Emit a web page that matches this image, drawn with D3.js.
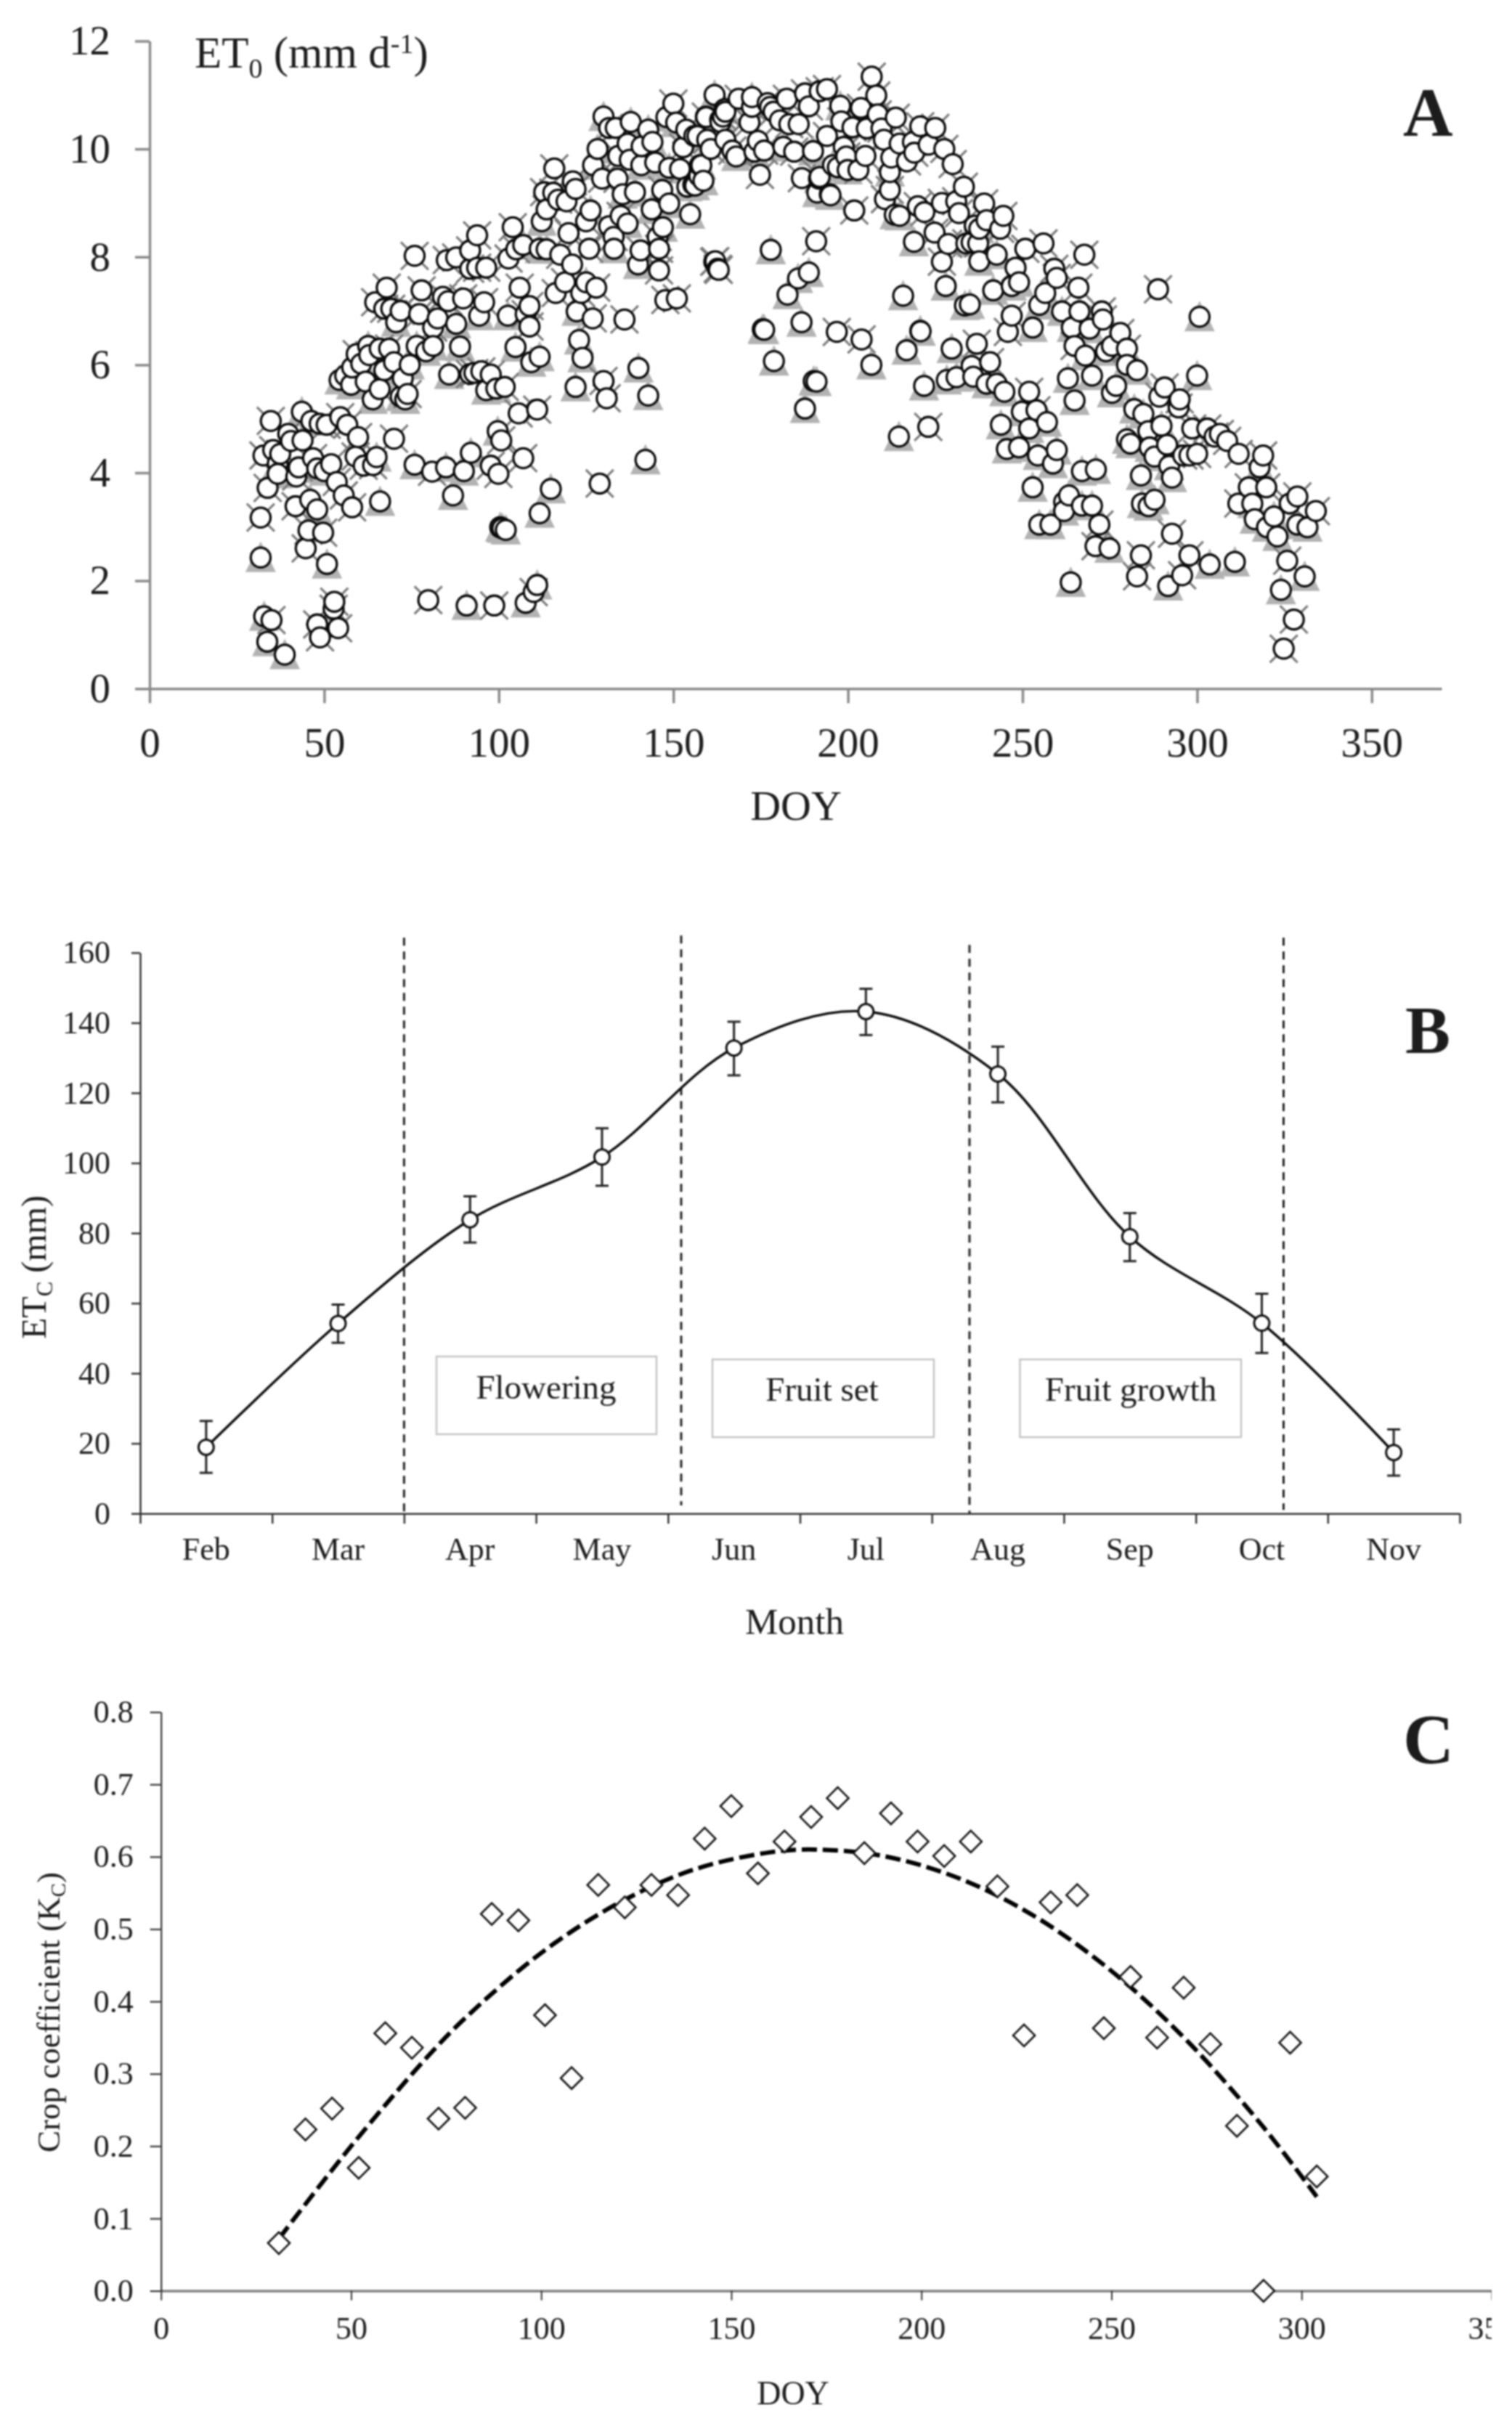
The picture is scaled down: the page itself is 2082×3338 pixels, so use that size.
<!DOCTYPE html>
<html><head><meta charset="utf-8">
<script src="https://cdnjs.cloudflare.com/ajax/libs/d3/7.8.5/d3.min.js"></script>
<style>html,body{margin:0;padding:0;background:#fff}svg{display:block;filter:blur(0.8px)}text{font-family:"Liberation Serif","Times New Roman",serif;fill:#1c1c1c}</style>
</head><body><svg id="c" width="2082" height="3338"></svg>
<script>
// Panel A: ET0 by DOY, [doy, mm/d]; points plotted with a grey cross
const et0Cross=[[31.8,3.17],[34.9,1.27],[33.8,3.72],[32.6,4.32],[34.7,4.96],[35.4,4.42],[37.4,4.35],[42.7,4.1],[41.8,3.38],[46.8,4.27],[45.5,2.93],[44.7,2.6],[49.7,2.89],[48,1.19],[48.8,.95],[52.9,1.61],[52.7,1.48],[54,1.12],[50.7,4.89],[48.7,4.91],[54.6,5.03],[56.6,4.89],[59.7,4.66],[52,4.16],[53.6,3.83],[55.6,3.58],[58,3.36],[59,4.3],[61.3,4.13],[64,4.14],[70,4.63],[80.9,4.02],[97.7,4.13],[99.9,3.98],[100.7,4.6],[79.8,1.64],[98.7,1.54],[110,1.79],[107,4.27],[105.7,5.1],[111,5.17],[128.9,3.8],[136,6.84],[130,5.7],[130.9,5.38],[126.9,6.86],[108.8,6.71],[107.7,6.94],[108.8,7.09],[106,7.43],[101.7,5.59],[97.7,5.82],[95,5.88],[93,5.85],[91.8,5.83],[89.8,7.23],[95.8,7.16],[96.4,7.8],[93.8,7.8],[91.8,7.78],[93.8,8.4],[91.8,8.12],[87.8,7.99],[85.1,7.94],[75.9,8.02],[77.9,7.38],[67.9,7.43],[64.6,7.16],[67.2,7.04],[69.2,7.04],[71.9,7],[77.2,6.94],[82.5,6.86],[81.2,6.69],[84,7.26],[85.5,7.18],[68.6,6.3],[65.9,6.3],[62.9,6.18],[59.3,6.2],[65.9,5.55],[73.9,5.46],[39.7,4.72],[40.5,4.59],[42,3.93],[43.8,4.6],
[115.9,9.64],[113,9.2],[115.6,9.19],[117,9.06],[119.4,9.03],[121.2,9.4],[122,9.26],[113.7,8.88],[104,8.55],[102.8,7.97],[105,8.14],[117.6,8.04],[120,8.44],[121,7.86],[119,7.53],[116.3,7.33],[123.6,7.33],[127.9,7.43],[125.9,8.15],[125,8.66],[132.9,8.37],[131.6,8.57],[134.9,8.76],[146.8,9.24],[145.5,8.37],[145.9,8.15],[145.9,7.75],[140.6,8.12],[147.7,7.2],[151,7.23],[129.6,9.45],[134,9.45],[131.6,10.39],[133.5,10.39],[134.2,9.87],[137.5,9.8],[140.9,10.05],[150,10.84],[153.7,10.36],[152.8,10.03],[162,7.92],[162.7,7.78],
[159.3,10.6],[168.7,10.93],[172.5,10.78],[171.8,10.49],[164.9,10.69],[164.2,10.6],[163.5,10.5],[156.9,10.24],[159.7,10.17],[160.7,10],[164.9,10.17],[166.9,9.97],[176,9.97],[174.8,9.52],[177,10.85],[177.7,10.78],[178.7,10.69],[180.5,10.53],[182.5,10.93],[183.2,10.46],[185.9,10.46],[187.7,11.03],[188.8,10.79],[194,11.11],[191.9,11.07],[184.6,9.95],[186.8,9.46],[191.9,9.48],[194,10.24],[198.1,10.51],[201.3,10.4],[203.7,10.76],[205.4,10.38],[208.5,10.64],[206.8,11.34],[208.1,10.99],[209.6,10.38],[210.3,10.17],[213.7,10.58],[218.6,10.13],[220.7,10.42],[225,10.39],[223.1,10.08],[227.6,10],[230,9.72],[216.9,9.77],[219,9.93],[214.8,10.1],[212.4,9.84],[212,9.24],[210.6,9.07],[205,9.87],[203,9.61],[199.5,9.86],[198.8,10.04],[201.8,8.86],[220,8.94],[221.9,8.83],[226.9,9],[233.2,9.3],[231.8,8.81],[231,9.03],[224.8,8.45],[228.7,8.24],[233.9,8.25],[226.9,7.91],[237.3,8.25],[236.3,8.58],[196.8,6.61],[203.9,6.47],[190.9,8.29],[161.7,7.91],[163,7.76],
[239,8.99],[239.7,8.68],[244.5,8.76],[243.6,8.52],[256,8.25],[250.8,8.15],[267.7,8.04],[248,7.8],[259.1,7.78],[259.8,7.61],[266,7.43],[288.8,7.4],[246.9,6.91],[245.8,6.61],[272.7,6.99],[273,6.84],[278,6.59],[279.9,6.3],[264.9,6.35],[290.7,5.58],[289.2,5.41],[295,5.36],[294.7,5.21],[298.6,4.82],[302.9,4.82],[306.5,4.72],[308.6,4.59],[305,4.67],[311.9,4.35],[300,4.35],[297.8,4.32],[296,4.32],[318.9,4.32],[314.8,3.73],[319.8,3.73],[311.8,3.43],[328.7,3.56],[326.5,3.43],[334,3.29],[325.8,2.37],[324.8,.74],[327.7,1.28],[223,4.85],[236.9,6.39],[240.7,6.05],[251.9,5.5],[254,5.16],[270.9,2.64],[272,3.04],[282.8,2.08],[283.9,2.47],[292.8,2.87],[297.8,2.47],[295.7,2.1]];
// Panel A: points plotted with a grey triangle
const et0Triangle=[[31.8,2.43],[32.8,1.34],[33.7,.87],[38.7,.63],[36.7,4.17],[36.7,3.98],[43.6,5.13],[46,3.5],[48,3.32],[50.8,2.31],[46.3,4.96],[50,4.03],[48,4.08],[65,4.29],[66,3.47],[75.9,4.15],[84.9,4.1],[86.9,3.58],[90,4.03],[92,4.37],[99.7,4.77],[100.4,2.99],[101,2.97],[102,2.94],[90.8,1.54],[107.7,1.59],[111,1.92],[111.7,3.25],[114.9,3.7],[142,4.24],[142.8,5.43],[140,5.94],[122,5.59],[124,6.13],[123,6.46],[109.3,6.05],[111.7,6.15],[104.8,6.33],[102.6,6.91],[99.3,5.56],[96.4,5.53],[85.8,5.82],[88.9,6.34],[87.8,6.76],[94.4,6.91],[70.6,6.79],[79.2,6.25],[76.5,6.35],[81.2,6.35],[62.6,6.35],[70,6.05],[67.2,5.9],[74.5,6],[72.5,5.75],[58,5.95],[60.6,6.02],[54.4,5.72],[56,5.8],[57.7,5.63],[61.9,5.69],[63.9,5.36],[71.9,5.41],[73.2,5.36],
[112.3,8.66],[107,8.22],[111.7,8.15],[113.7,8.14],[125,7.53],[122.3,6.99],[126.3,8.86],[133,8.15],[136.9,8.62],[143.8,8.88],[148.8,8.99],[147,8.55],[139.9,7.86],[127,9.7],[128.3,10],[130,10.6],[136.9,10.1],[137.8,10.5],[140.8,9.7],[144.8,9.75],[135.5,9.16],[139,9.2],[142.8,10.36],[144,10.13],[148,10.59],[150.8,10.49],[148.8,9.65],[151.9,9.63],[155.7,9.34],[154,9.3],[154.8,8.79],[157.4,9.5],[158,9.7],[156,10.24],[159.4,10.59],[161.8,11],[163.4,10.54],[164.7,10.74],
[172.5,10.96],[168,9.86],[157.6,9.7],[156.2,9.32],[158.6,9.41],[173.2,9.95],[174.2,10.15],[181.5,10.04],[190,9.96],[191.2,9.19],[195,9.14],[197.8,10.8],[212,9.57],[195.7,9.7],[197.1,9.66],[199.9,9.61],[214.8,8.76],[213.4,8.78],[218.9,8.28],[228,7.46],[234.9,7.12],[233.5,7.1],[215.8,7.28],[220.7,6.63],[186.7,6.79],[176,6.65],[177.9,8.13],[188.8,7.71],[185.7,7.6],[182.7,7.3],[194.8,9.16],[191.7,9.45],
[237.6,8.52],[235.4,8.27],[242.6,8.04],[237.6,7.92],[249,7.53],[246.9,7.46],[241.6,7.38],[256.5,7.33],[254.8,7.11],[300.7,6.89],[261.3,6.99],[266.3,6.99],[264.1,6.69],[252.9,6.69],[269.2,6.67],[275.6,6.35],[273.9,6.25],[268,6.17],[282.8,5.9],[279.9,6],[269.9,5.8],[263,5.75],[276.8,5.61],[275.6,5.48],[264.9,5.34],[300,5.8],[282,5.18],[284.6,5.09],[286,4.77],[289.8,4.87],[291.4,4.52],[279.9,4.62],[280.9,4.54],[287.8,4.3],[286.4,4.47],[292,4.13],[292.8,3.91],[283.9,3.95],[317.9,4.1],[315.8,3.43],[316.5,3.14],[322,3.19],[320,2.99],[323,2.82],[331.6,2.99],[328.7,3.04],[330.8,2.08],[324,1.83],
[214.6,4.67],[187.7,5.19],[190.2,5.7],[191,5.69],[206.7,6],[175.6,6.66],[178.8,6.07],[216.8,6.27],[220.8,6.62],[221.8,5.61],[229.7,6.3],[228.3,5.72],[231.1,5.77],[235.4,5.98],[235.9,5.78],[242.6,5.65],[244.8,5.5],[239.7,5.65],[249.8,5.13],[257,4.94],[251.9,4.82],[243.8,4.89],[245.5,4.44],[249,4.47],[254.4,4.32],[259.8,4.42],[258.7,4.17],[267,4.03],[271,4.06],[252.9,3.73],[274.9,2.6],[261.9,3.46],[263.3,3.58],[267,3.39],[269.9,3.39],[261.9,3.29],[254.8,3.04],[258,3.04],[263.8,1.97],[284.2,3.43],[287.8,3.5],[286.1,3.38],[291.7,1.9],[303.6,2.3],[310.8,2.35]];
const et0XTicks=[0,50,100,150,200,250,300,350];
const et0YTicks=[0,2,4,6,8,10,12];

// Panel B: monthly ETc with error bars
const months=["Feb","Mar","Apr","May","Jun","Jul","Aug","Sep","Oct","Nov"];
const etcValues=[18.9,54.2,83.8,101.7,132.8,143.2,125.4,79,54.3,17.4];
const etcUpper=[26.4,59.6,90.5,109.9,140.3,149.7,133.2,85.7,62.7,24];
const etcLower=[11.6,48.7,77.3,93.5,125,136.5,117.3,72,45.8,10.8];
const etcYTicks=[0,20,40,60,80,100,120,140,160];
const stageLinePos=[2,4.1,6.285,8.665];
const stageLineTop=[164.3,164.9,162.2,164.3];
const stageLineBottom=[0,2.3,0,1];
const stageNames=["Flowering","Fruit set","Fruit growth"];

// Panel C: crop coefficient
const kcDoy=[31,38,45,52,59,66,73,80,87,94,101,108,115,122,129,136,143,150,157,164,171,178,185,192,199,206,213,220,227,234,241,248,255,262,269,276,283,290,297,304];
const kcValues=[.066,.223,.252,.17,.356,.336,.238,.253,.521,.512,.381,.294,.561,.53,.561,.547,.625,.67,.577,.621,.655,.681,.605,.66,.621,.601,.621,.559,.353,.537,.547,.363,.434,.35,.419,.341,.228,0,.343,.158];
const kcTrendDoy=[31,50,70,80,100,120,140,160,172,190,210,230,250,270,290,304];
const kcTrendValues=[.072,.2,.323,.377,.467,.535,.582,.606,.61,.601,.57,.517,.442,.345,.226,.13];
const kcXTicks=[0,50,100,150,200,250,300,350];
const kcYTicks=[0,.1,.2,.3,.4,.5,.6,.7,.8];

const svg=d3.select("#c");
function styleAxis(g,color,w,size){
  g.select(".domain").attr("stroke",color).attr("stroke-width",w);
  g.selectAll(".tick line").attr("stroke",color).attr("stroke-width",w);
  g.selectAll(".tick text").attr("font-size",size).attr("font-family",'"Liberation Serif",serif').attr("fill","#1c1c1c");
}

// ---------- A
(function(){
  const x=d3.scaleLinear().domain([0,370]).range([206,1985]);
  const y=d3.scaleLinear().domain([0,12]).range([948.3,56.5]);
  const gx=svg.append("g").attr("transform","translate(0,948.3)").call(d3.axisBottom(x).tickValues(et0XTicks).tickSizeInner(20).tickSizeOuter(0).tickPadding(33));
  styleAxis(gx,"#8a8a8a",3.5,57);
  const gy=svg.append("g").attr("transform","translate(206,0)").call(d3.axisLeft(y).tickValues(et0YTicks).tickSizeInner(20).tickSizeOuter(0).tickPadding(34));
  styleAxis(gy,"#8a8a8a",3.5,57);
  const all=et0Cross.concat(et0Triangle).sort((a,b)=>a[0]-b[0]);
  svg.append("g").selectAll("path").data(et0Triangle).join("path")
    .attr("d","M0,-22L21,20L-21,20Z").attr("fill","#b3b3b3")
    .attr("transform",d=>`translate(${x(d[0])},${y(d[1])})`);
  svg.append("g").selectAll("path").data(et0Cross).join("path")
    .attr("d","M-19,-19L19,19M19,-19L-19,19").attr("stroke","#7d7d7d").attr("stroke-width",3.2).attr("fill","none")
    .attr("transform",d=>`translate(${x(d[0])},${y(d[1])})`);
  svg.append("g").selectAll("circle").data(all).join("circle")
    .attr("cx",d=>x(d[0])).attr("cy",d=>y(d[1])).attr("r",13.6)
    .attr("fill","#fff").attr("stroke","#0a0a0a").attr("stroke-width",3.3);
  svg.append("text").attr("x",1096).attr("y",1129).attr("text-anchor","middle").attr("font-size",58).text("DOY");
  const t=svg.append("text").attr("x",268).attr("y",93).attr("font-size",61);
  t.append("tspan").text("ET");
  t.append("tspan").text("0").attr("font-size",38).attr("dy",14);
  t.append("tspan").text(" (mm d").attr("dy",-14);
  t.append("tspan").text("-1").attr("font-size",38).attr("dy",-20);
  t.append("tspan").text(")").attr("dy",20);
  svg.append("text").attr("x",1932).attr("y",187).attr("font-size",95).attr("font-weight","bold").attr("fill","#000").text("A");
})();

// ---------- B
(function(){
  const xb=d3.scaleBand().domain(months).range([193,2010]);
  const xl=d3.scaleLinear().domain([0,10]).range([193,2010]);
  const y=d3.scaleLinear().domain([0,160]).range([2084.2,1311.9]);
  const cx=d=>xb(d)+xb.bandwidth()/2;
  const pts=months.map((m,i)=>({m,v:etcValues[i],u:etcUpper[i],l:etcLower[i]}));
  svg.append("g").selectAll("line").data(stageLinePos).join("line")
    .attr("x1",d=>xl(d)).attr("x2",d=>xl(d))
    .attr("y1",(d,i)=>y(stageLineTop[i])).attr("y2",(d,i)=>y(stageLineBottom[i]))
    .attr("stroke","#222").attr("stroke-width",3).attr("stroke-dasharray","11 8");
  const gx=svg.append("g").attr("transform","translate(0,2084.2)").call(d3.axisBottom(xl).tickValues(d3.range(0,11)).tickFormat("").tickSizeInner(14).tickSizeOuter(0));
  styleAxis(gx,"#333",2.5,44);
  const gl=svg.append("g").attr("transform","translate(0,2084.2)").call(d3.axisBottom(xb).tickSize(0).tickPadding(33));
  gl.select(".domain").remove();
  gl.selectAll("text").attr("font-size",44).attr("font-family",'"Liberation Serif",serif').attr("fill","#1c1c1c");
  const gy=svg.append("g").attr("transform","translate(193,0)").call(d3.axisLeft(y).tickValues(etcYTicks).tickSizeInner(12).tickSizeOuter(0).tickPadding(29));
  styleAxis(gy,"#333",2.5,44);
  const boxes=[[601,1868,303,107,752,1926],[981,1872,305,107,1132,1929],[1404.4,1872,304.6,107,1557,1929]];
  svg.append("g").selectAll("rect").data(boxes).join("rect")
    .attr("x",d=>d[0]).attr("y",d=>d[1]).attr("width",d=>d[2]).attr("height",d=>d[3])
    .attr("fill","#fff").attr("stroke","#c4c4c4").attr("stroke-width",2.5);
  svg.append("g").selectAll("text").data(boxes).join("text")
    .attr("x",d=>d[4]).attr("y",d=>d[5]).attr("text-anchor","middle").attr("font-size",47).text((d,i)=>stageNames[i]);
  svg.append("path").datum(pts).attr("fill","none").attr("stroke","#0a0a0a").attr("stroke-width",3.4)
    .attr("d",d3.line().x(d=>cx(d.m)).y(d=>y(d.v)).curve(d3.curveCatmullRom.alpha(0.5)));
  const eb=svg.append("g").attr("stroke","#222").attr("stroke-width",3);
  eb.selectAll(".v").data(pts).join("line").attr("x1",d=>cx(d.m)).attr("x2",d=>cx(d.m)).attr("y1",d=>y(d.u)).attr("y2",d=>y(d.l));
  eb.selectAll(".t").data(pts.flatMap(d=>[[d.m,d.u],[d.m,d.l]])).join("line")
    .attr("x1",d=>cx(d[0])-9).attr("x2",d=>cx(d[0])+9).attr("y1",d=>y(d[1])).attr("y2",d=>y(d[1]));
  svg.append("g").selectAll("circle").data(pts).join("circle")
    .attr("cx",d=>cx(d.m)).attr("cy",d=>y(d.v)).attr("r",10.5)
    .attr("fill","#fff").attr("stroke","#111").attr("stroke-width",3);
  svg.append("text").attr("x",1094).attr("y",2250).attr("text-anchor","middle").attr("font-size",51).text("Month");
  const t=svg.append("text").attr("transform","translate(63,1745) rotate(-90)").attr("text-anchor","middle").attr("font-size",48);
  t.append("tspan").text("ET");
  t.append("tspan").text("C").attr("font-size",31).attr("dy",9);
  t.append("tspan").text(" (mm)").attr("dy",-9);
  svg.append("text").attr("x",1935).attr("y",1450).attr("font-size",93).attr("font-weight","bold").attr("fill","#000").text("B");
})();

// ---------- C
(function(){
  const defs=svg.append("defs");
  defs.append("clipPath").attr("id","clipC").append("rect").attr("x",0).attr("y",2300).attr("width",2054).attr("height",1038);
  const root=svg.append("g").attr("clip-path","url(#clipC)");
  const x=d3.scaleLinear().domain([0,350]).range([221.7,2054]);
  const y=d3.scaleLinear().domain([0,.8]).range([3154.6,2357.6]);
  const gx=root.append("g").attr("transform","translate(0,3154.6)").call(d3.axisBottom(x).tickValues(kcXTicks).tickSizeInner(13).tickSizeOuter(0).tickPadding(22).tickFormat(d3.format("d")));
  styleAxis(gx,"#808080",3.5,44);
  gx.selectAll(".tick line").attr("stroke","#333").attr("stroke-width",2);
  const gy=root.append("g").attr("transform","translate(221.7,0)").call(d3.axisLeft(y).tickValues(kcYTicks).tickFormat(d3.format(".1f")).tickSizeInner(15).tickSizeOuter(0).tickPadding(23));
  styleAxis(gy,"#333",2.2,44);
  const pts=kcDoy.map((d,i)=>[d,kcValues[i]]);
  root.append("path").datum(kcTrendDoy.map((d,i)=>[d,kcTrendValues[i]])).attr("fill","none").attr("stroke","#000").attr("stroke-width",6).attr("stroke-dasharray","21 8")
    .attr("d",d3.line().x(d=>x(d[0])).y(d=>y(d[1])).curve(d3.curveCatmullRom.alpha(0.5)));
  root.append("g").selectAll("path").data(pts).join("path")
    .attr("d","M0,-15L15,0L0,15L-15,0Z").attr("fill","#fff").attr("stroke","#111").attr("stroke-width",2.6)
    .attr("transform",d=>`translate(${x(d[0])},${y(d[1])})`);
  root.append("text").attr("x",1092).attr("y",3311).attr("text-anchor","middle").attr("font-size",46).text("DOY");
  const t=root.append("text").attr("transform","translate(82,2771) rotate(-90)").attr("text-anchor","middle").attr("font-size",45);
  t.append("tspan").text("Crop coefficient (K");
  t.append("tspan").text("C").attr("font-size",29).attr("dy",8);
  t.append("tspan").text(")").attr("dy",-8);
  root.append("text").attr("x",1932).attr("y",2428).attr("font-size",97).attr("font-weight","bold").attr("fill","#000").text("C");
})();
</script></body></html>
